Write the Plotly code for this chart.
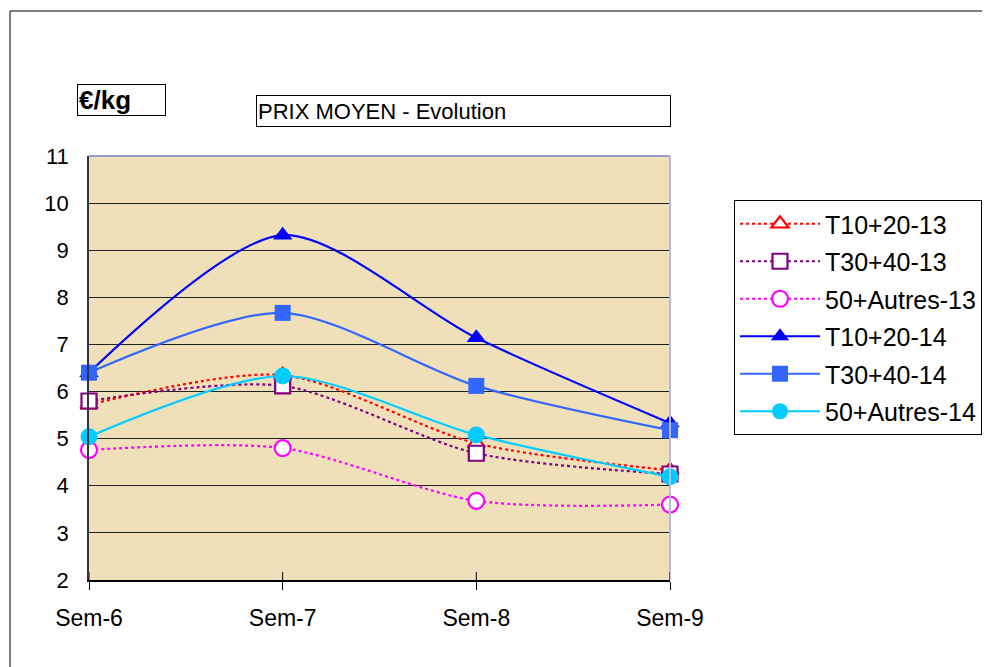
import plotly.graph_objects as go

weeks = ["Sem-6", "Sem-7", "Sem-8", "Sem-9"]
t1020_13 = [5.72, 6.35, 4.90, 4.33]
t3040_13 = [5.80, 6.12, 4.69, 4.25]
a50_13 = [4.76, 4.80, 3.68, 3.60]
t1020_14 = [6.40, 9.32, 7.14, 5.33]
t3040_14 = [6.40, 7.67, 6.12, 5.18]
a50_14 = [5.04, 6.33, 5.08, 4.19]

series = [
    ("T10+20-13", t1020_13, "#FF0000", "dot", "triangle-up-open", 15),
    ("T30+40-13", t3040_13, "#800080", "dot", "square-open", 15),
    ("50+Autres-13", a50_13, "#FF00FF", "dot", "circle-open", 16),
    ("T10+20-14", t1020_14, "#0000FF", "solid", "triangle-up", 17),
    ("T30+40-14", t3040_14, "#3366FF", "solid", "square", 16),
    ("50+Autres-14", a50_14, "#00CCFF", "solid", "circle", 17),
]

fig = go.Figure()
for i, (name, vals, col, dash, sym, sz) in enumerate(series):
    open_ = sym.endswith("open")
    fig.add_trace(go.Scatter(
        x=weeks, y=vals, name=name, mode="lines+markers",
        line=dict(color=col, width=2.2, dash=dash, shape="spline", smoothing=0.8),
        marker=dict(symbol=sym.replace("-open", "") if open_ else sym, size=sz,
                    color="white" if open_ else col,
                    line=dict(color=col, width=2.2 if open_ else 0)),
        cliponaxis=False, legendgroup=str(i),
    ))

# page body margin is 8px; figure placed at (8, 8)
OFF = 8
W, H = 990 - OFF, 667 - OFF
L, R, T, B = 89 - OFF, 320, 156 - OFF, 87
pw, ph = W - L - R, H - T - B

def px(x):
    return (x - OFF - L) / pw

def py(y):
    return (H - B - (y - OFF)) / ph

tick_shapes = [
    dict(type="line", xref="x", yref="y domain", x0=k, x1=k, y0=0, y1=8 / ph,
         line=dict(color="black", width=1))
    for k in range(len(weeks))
]

fig.update_layout(
    width=W, height=H,
    margin=dict(l=L, r=R, t=T, b=B, autoexpand=False),
    paper_bgcolor="white",
    plot_bgcolor="#EFE0BA",
    font=dict(family="Liberation Sans, Arial, sans-serif", size=20, color="black"),
    showlegend=True,
    legend=dict(x=px(734), y=py(200), xanchor="left", yanchor="top",
                bordercolor="black", borderwidth=1, bgcolor="white",
                font=dict(size=25), tracegroupgap=2, itemwidth=80),
    xaxis=dict(type="category", range=[0, 3], showgrid=False, showline=True,
               linecolor="black", linewidth=1.5, ticks="outside", ticklen=8,
               tickcolor="black", ticklabelstandoff=9, zeroline=False,
               tickfont=dict(size=23)),
    yaxis=dict(range=[2, 11], dtick=1, showgrid=True, gridcolor="#222222", gridwidth=1,
               showline=True, linecolor="#333344", linewidth=1.5, ticks="",
               ticklabelstandoff=14, zeroline=False, tickfont=dict(size=22)),
    shapes=[
        dict(type="line", xref="paper", yref="paper", x0=0, x1=1, y0=1, y1=1,
             line=dict(color="#9A9ACC", width=2)),
        dict(type="line", xref="paper", yref="paper", x0=1, x1=1, y0=0, y1=1,
             line=dict(color="#B8B8E0", width=2)),
        dict(type="rect", xref="paper", yref="paper", x0=px(10), x1=px(1000),
             y0=py(680), y1=py(11), line=dict(color="black", width=1)),
    ] + tick_shapes,
    annotations=[
        dict(text="PRIX MOYEN - Evolution", xref="paper", yref="paper",
             x=px(256), y=py(95), xanchor="left", yanchor="top", showarrow=False,
             width=411, height=28, align="left", bordercolor="black", borderwidth=1,
             borderpad=1, bgcolor="white", font=dict(size=22)),
        dict(text="<b>€/kg</b>", xref="paper", yref="paper",
             x=px(77), y=py(84), xanchor="left", yanchor="top", showarrow=False,
             width=85, height=28, align="left", bordercolor="black", borderwidth=1,
             borderpad=1, bgcolor="white", font=dict(size=26)),
    ],
)

fig.write_html("out.html")
